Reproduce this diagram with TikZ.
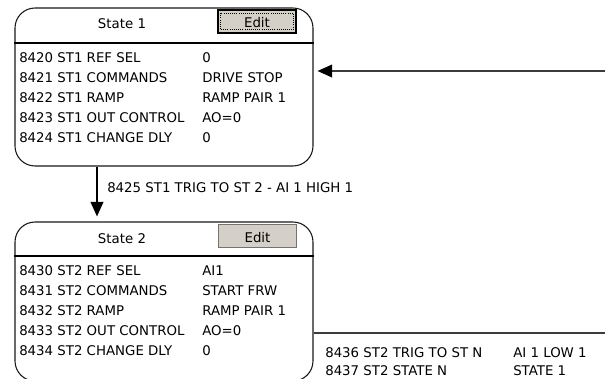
\documentclass[tikz,border=0pt]{standalone}
\usepackage{fontspec}
\setmainfont{DejaVu Sans}
\usetikzlibrary{arrows.meta}
\definecolor{btnface}{HTML}{D4D0C8}
\definecolor{linegray}{HTML}{3C3C3C}
\begin{document}
\begin{tikzpicture}[x=0.75pt,y=-0.75pt,
  statebox/.style={draw=black!90,line width=0.8pt,rounded corners=15pt,minimum width=223.5pt,inner sep=0pt},
  txt/.style={font=\fontsize{10pt}{12pt}\selectfont,inner sep=0pt,anchor=base west,text=black},
  hdr/.style={font=\fontsize{10pt}{12pt}\selectfont,inner sep=0pt,anchor=base,text=black},
  btn/.style={fill=btnface,minimum width=59pt,minimum height=17pt,inner sep=0pt},
  conn/.style={line width=1.5pt,-{Triangle[length=11pt,width=9.5pt,color=black]}},
  wire/.style={line width=1.4pt,draw=linegray}
]
\useasboundingbox (0,0) rectangle (605,378);
\clip (0,0) rectangle (605,378);
% State 1
\node[statebox,minimum height=118.5pt] (s1) at (164,87) {};
\coordinate (h1) at (0,43);
\draw[line width=0.8pt] (s1.west |- h1) -- (s1.east |- h1);
\node[hdr] (t1) at (122,29) {State 1};
\node[btn,draw=black,line width=1.5pt] (e1) at (257,21.5) {};
\draw[densely dotted,line width=0.6pt] ([shift={(4,4)}]e1.north west) rectangle ([shift={(-4,-4)}]e1.south east);
\node[hdr] (e1t) at (257,28) {Edit};
\foreach \i/\a/\b in {0/8420 ST1 REF SEL/0,1/8421 ST1 COMMANDS/DRIVE STOP,2/8422 ST1 RAMP/RAMP PAIR 1,3/8423 ST1 OUT CONTROL/AO=0,4/8424 ST1 CHANGE DLY/0}{
  \node[txt] (p1\i) at (19,62+20*\i) {\a};
  \node[txt] (v1\i) at (202,62+20*\i) {\b};
}
% State 2
\node[statebox,minimum height=119.25pt] (s2) at (164,301.5) {};
\coordinate (h2) at (0,256);
\draw[line width=0.8pt] (s2.west |- h2) -- (s2.east |- h2);
\node[hdr] (t2) at (122,243) {State 2};
\node[btn,draw=black!55,line width=0.8pt] (e2) at (257.5,236) {};
\node[hdr] (e2t) at (257.5,242) {Edit};
\foreach \i/\a/\b in {0/8430 ST2 REF SEL/AI1,1/8431 ST2 COMMANDS/START FRW,2/8432 ST2 RAMP/RAMP PAIR 1,3/8433 ST2 OUT CONTROL/AO=0,4/8434 ST2 CHANGE DLY/0}{
  \node[txt] (p2\i) at (19,275+20*\i) {\a};
  \node[txt] (v2\i) at (202,275+20*\i) {\b};
}
% connector State 1 -> State 2
\coordinate (cx) at (97,0);
\draw[conn,shorten >=3.75pt] (s1.south -| cx) -- (s2.north -| cx);
\node[txt] (trig) at (107,192) {8425 ST1 TRIG TO ST 2 - AI 1 HIGH 1};
% incoming arrow to State 1
\coordinate (inA) at (605,71);
\draw[conn,draw=linegray,line width=1.4pt,shorten >=3pt] (inA) -- (s1.east |- inA);
% outgoing from State 2
\coordinate (outA) at (605,333);
\draw[wire] (s2.east |- outA) -- (outA);
\node[txt] (o1) at (325,357) {8436 ST2 TRIG TO ST N};
\node[txt] (o2) at (325,375) {8437 ST2 STATE N};
\node[txt] (o1v) at (513,357) {AI 1 LOW 1};
\node[txt] (o2v) at (513,375) {STATE 1};
\end{tikzpicture}
\end{document}
